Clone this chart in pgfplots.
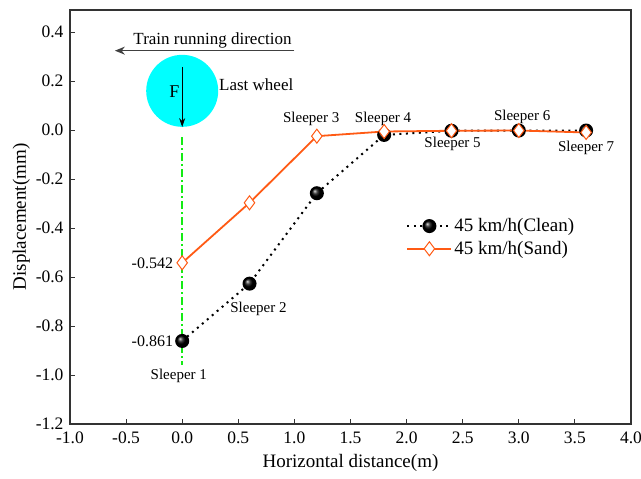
\documentclass[border=0pt]{standalone}
\usepackage{pgfplots}
\pgfplotsset{compat=1.18}
\usepackage{fontspec}
\setmainfont{Liberation Serif}
\usetikzlibrary{arrows.meta}

\definecolor{sandorange}{RGB}{255,90,20}
\definecolor{guidegreen}{RGB}{20,235,20}
\definecolor{wheelcyan}{RGB}{0,255,255}

% Vertical displacement of the rail under the last wheel
\pgfplotstableread{
x    y
0.0  -0.861
0.6  -0.627
1.2  -0.258
1.8  -0.020
2.4  -0.003
3.0  -0.002
3.6  -0.002
}\clean
\pgfplotstableread{
x    y
0.0  -0.542
0.6  -0.297
1.2  -0.025
1.8  -0.006
2.4  -0.003
3.0  -0.002
3.6  -0.010
}\sand

\begin{document}
\begin{tikzpicture}
\useasboundingbox (-70bp,-55bp) rectangle (571bp,424bp);
\begin{axis}[
  at={(0,0)}, anchor=south west,
  scale only axis,
  width=561bp, height=414bp,
  xmin=-1, xmax=4, ymin=-1.2, ymax=0.49,
  xtick={-1,-0.5,...,4}, ytick={-1.2,-1.0,...,0.4},
  xtick pos=bottom, ytick pos=left,
  tick align=inside,
  major tick length=5bp,
  axis line style={line width=1.2bp, black!80},
  tick style={line width=1bp, black!80},
  /pgf/number format/assume math mode=true,
  /pgf/number format/fixed,
  /pgf/number format/fixed zerofill,
  /pgf/number format/precision=1,
  ticklabel style={font=\fontsize{17.5bp}{20bp}\selectfont},
  xticklabel style={yshift=-4bp},
  yticklabel style={xshift=-3bp},
  label style={font=\fontsize{19bp}{22bp}\selectfont},
  xlabel={Horizontal distance(m)},
  ylabel={Displacement(mm)},
  xlabel style={yshift=-4bp},
  ylabel style={yshift=-1bp},
  legend style={draw=none, fill=none, at={(axis cs:1.97,-0.345)}, anchor=north west,
    font=\fontsize{19bp}{22bp}\selectfont, row sep=4bp},
  legend cell align=left,
  legend image code/.code={%
    \draw[mark repeat=2, mark phase=2, #1] plot coordinates {(0bp,0bp) (22bp,0bp) (44bp,0bp)};},
  clip=false,
]
% wheel position guide
\addplot[forget plot, guidegreen, line width=2bp,
  dash pattern=on 8bp off 3bp on 2bp off 3bp] coordinates {(0,-0.03) (0,-0.96)};

\addplot[black, line width=2bp, dash pattern=on 2bp off 4.5bp,
  mark=ball, mark size=6bp, mark options={solid, ball color=black}] table[x=x,y=y] {\clean};
\addlegendentry{45 km/h(Clean)}
\addplot[sandorange, line width=1.8bp, mark=diamond*, mark size=7bp,
  mark options={solid, fill=white, line width=1bp}] table[x=x,y=y] {\sand};
\addlegendentry{45 km/h(Sand)}

% wheel and load
\fill[wheelcyan] (axis cs:0,0.16) circle[radius=36bp];
\draw[line width=1bp, -{Stealth[length=9bp,width=6bp]}] (axis cs:0,0.258) -- (axis cs:0,0.012);
\node[anchor=base, font=\fontsize{18bp}{20bp}\selectfont] at (axis cs:-0.07,0.131) {F};
\node[anchor=base, font=\fontsize{17bp}{20bp}\selectfont] at (axis cs:0.66,0.16) {Last wheel};

% direction of travel
\draw[line width=1.2bp, black!75, -{Stealth[length=10bp,width=8bp]}] (axis cs:1.0,0.324) -- (axis cs:-0.6,0.324);
\node[anchor=base, font=\fontsize{17bp}{20bp}\selectfont] at (axis cs:0.27,0.348) {Train running direction};

% peak values
\node[anchor=east, font=\fontsize{16bp}{18bp}\selectfont] at (axis cs:-0.05,-0.542) {-0.542};
\node[anchor=east, font=\fontsize{16bp}{18bp}\selectfont] at (axis cs:-0.05,-0.861) {-0.861};

% sleeper labels
\begin{scope}[every node/.style={font=\fontsize{15bp}{18bp}\selectfont}]
\node at (axis cs:-0.03,-1.004) {Sleeper 1};
\node at (axis cs:0.68,-0.73) {Sleeper 2};
\node at (axis cs:1.15,0.045) {Sleeper 3};
\node at (axis cs:1.79,0.045) {Sleeper 4};
\node at (axis cs:2.41,-0.057) {Sleeper 5};
\node at (axis cs:3.03,0.053) {Sleeper 6};
\node at (axis cs:3.6,-0.074) {Sleeper 7};
\end{scope}
\end{axis}
\end{tikzpicture}
\end{document}
